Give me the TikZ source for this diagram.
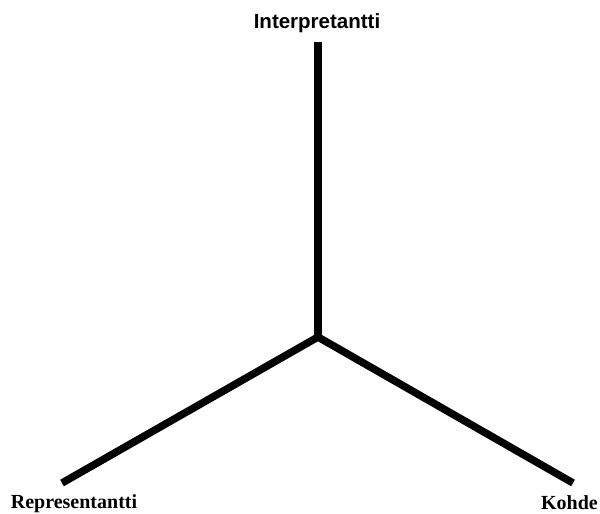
\documentclass[tikz,border=0pt]{standalone}
\usepackage{fontspec}
\setmainfont{Liberation Serif}
\newfontfamily\labsans{Liberation Sans}
\begin{document}
\begin{tikzpicture}[x=1pt,y=-1pt,
  arm/.style={line width=7.5pt, line cap=butt},
  seriflab/.style={font=\fontsize{20}{23}\selectfont\bfseries, inner sep=0pt, anchor=base},
  sanslab/.style={font=\labsans\fontsize{20.5}{23}\selectfont\bfseries, inner sep=0pt, anchor=base}]
\useasboundingbox (0,0) rectangle (600,514);
\coordinate (c) at (318,337);
\coordinate (top) at (318,42);
\coordinate (left) at (62,483);
\coordinate (right) at (573,483);
\draw[arm, line join=miter] (top) -- (c);
\draw[arm, line join=round] (left) -- (c) -- (right);
\node[sanslab] (interp) at (317,28) {Interpretantti};
\node[seriflab] (rep) at (74,508) {Representantti};
\node[seriflab] (kohde) at (569.5,509) {Kohde};
\end{tikzpicture}
\end{document}
